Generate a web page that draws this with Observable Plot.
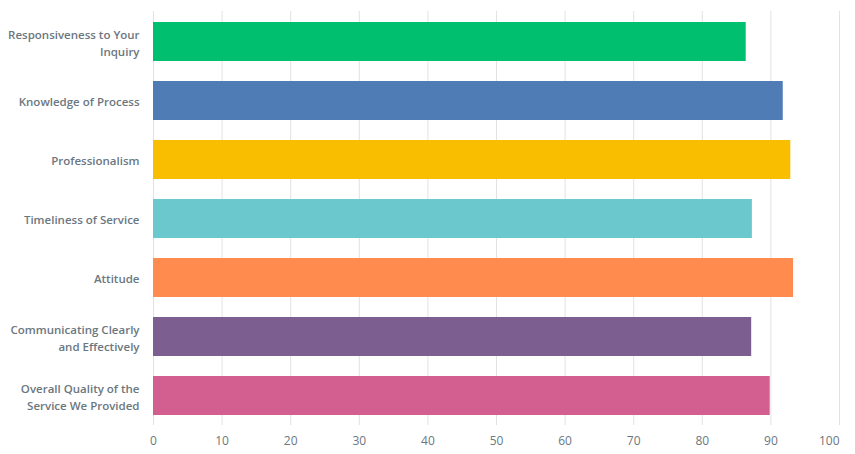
<!DOCTYPE html>
<html>
<head>
<meta charset="utf-8">
<script src="https://cdn.jsdelivr.net/npm/d3@7"></script>
<script src="https://cdn.jsdelivr.net/npm/@observablehq/plot@0.6"></script>
<style>
  html, body { margin: 0; padding: 0; background: #fff; }
  #chart svg { display: block; font-family: "Open Sans", sans-serif; }
  #chart g[aria-label="y-axis tick label"] text { font-weight: 600; fill: #6b7780; }
  #chart g[aria-label="x-axis tick label"] text { fill: #6b7780; }
</style>
</head>
<body>
<div id="chart"></div>
<script>
const categories = [
  "Responsiveness to Your Inquiry",
  "Knowledge of Process",
  "Professionalism",
  "Timeliness of Service",
  "Attitude",
  "Communicating Clearly and Effectively",
  "Overall Quality of the Service We Provided"
];
const labels = [
  "Responsiveness to Your\nInquiry",
  "Knowledge of Process",
  "Professionalism",
  "Timeliness of Service",
  "Attitude",
  "Communicating Clearly\nand Effectively",
  "Overall Quality of the\nService We Provided"
];
const scores = [86.4, 91.8, 92.9, 87.3, 93.3, 87.2, 89.9];
const colors = ["#00bf6f", "#507cb6", "#f9be00", "#6bc8cd", "#ff8b4f", "#7d5e90", "#d25f90"];
const xTicks = [0, 10, 20, 30, 40, 50, 60, 70, 80, 90, 100];

const data = categories.map((c, i) => ({category: c, score: scores[i], color: colors[i]}));
const labelOf = new Map(categories.map((c, i) => [c, labels[i]]));

const chart = Plot.plot({
  width: 855,
  height: 454,
  marginLeft: 153,
  marginRight: 16,
  marginTop: 11,
  marginBottom: 29,
  x: {domain: [0, 100]},
  y: {domain: categories, paddingInner: 0.344, paddingOuter: 0.18},
  marks: [
    Plot.gridX(xTicks, {stroke: "#e2e2e2", strokeOpacity: 1, strokeWidth: 1}),
    Plot.barX(data, {x: "score", y: "category", fill: "color"}),
    Plot.axisX(xTicks.slice(0, -1), {tickSize: 0, tickPadding: 11, fontSize: 12, label: null}),
    Plot.axisX(xTicks.slice(-1), {tickSize: 0, tickPadding: 11, fontSize: 12, textAnchor: "end", label: null}),
    Plot.axisY({tickSize: 0, tickPadding: 14, fontSize: 11.5, lineHeight: 1.48, tickFormat: d => labelOf.get(d), label: null})
  ]
});
document.getElementById("chart").appendChild(chart);
</script>
</body>
</html>
